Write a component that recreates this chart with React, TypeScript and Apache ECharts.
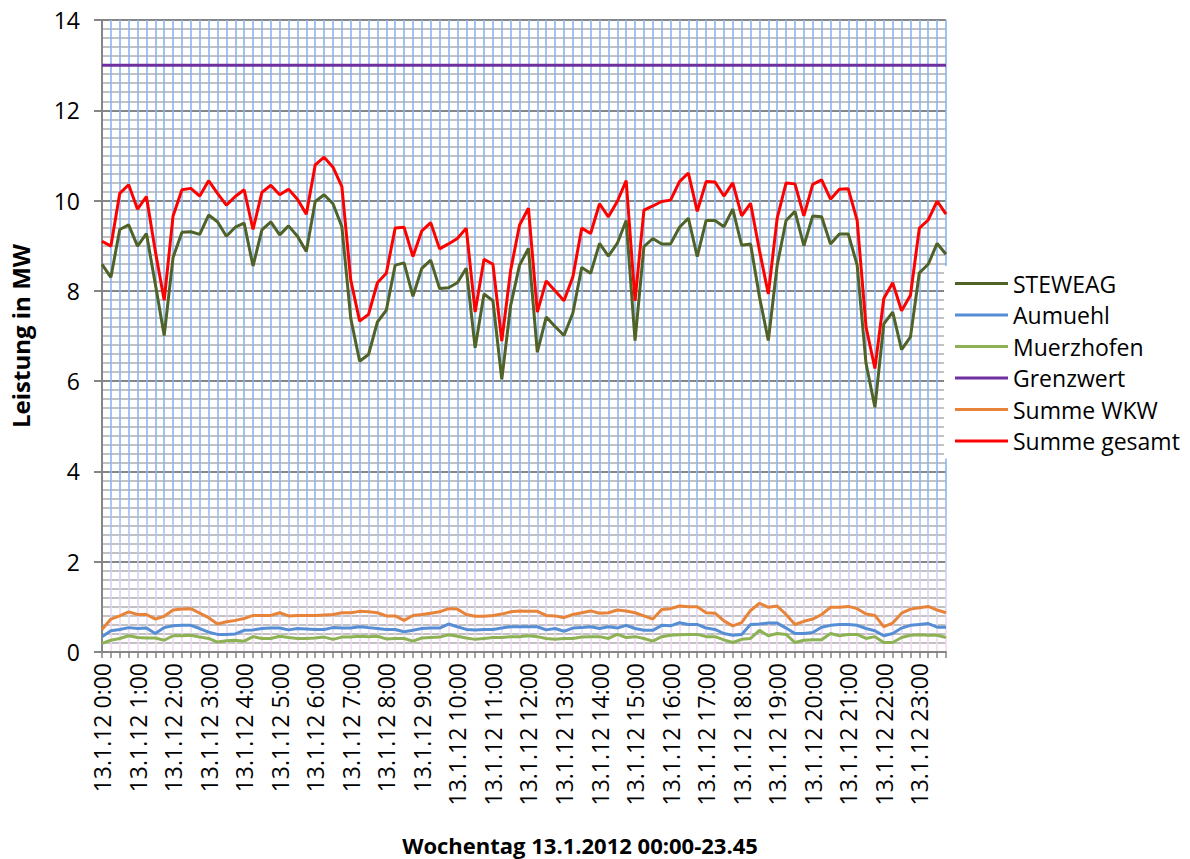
import React, { useEffect, useRef } from "react";
import * as echarts from "echarts";

const HOURS = Array.from({ length: 24 }, (_, h) => h);
const QUARTERS = ["00", "15", "30", "45"];
const categories: string[] = [];
HOURS.forEach((h) => QUARTERS.forEach((q) => categories.push(`13.1.12 ${h}:${q}`)));

const steweag = [
  8.59, 8.30, 9.36, 9.46, 8.99, 9.27, 8.15, 7.01,
  8.74, 9.30, 9.31, 9.25, 9.68, 9.53, 9.21, 9.41,
  9.50, 8.55, 9.35, 9.53, 9.24, 9.44, 9.21, 8.87,
  9.98, 10.13, 9.93, 9.42, 7.39, 6.44, 6.59, 7.31,
  7.57, 8.57, 8.62, 7.88, 8.50, 8.68, 8.05, 8.07,
  8.18, 8.50, 6.74, 7.93, 7.78, 6.04, 7.68, 8.57,
  8.94, 6.64, 7.42, 7.21, 7.01, 7.51, 8.52, 8.39,
  9.05, 8.77, 9.05, 9.56, 6.90, 8.98, 9.16, 9.04,
  9.04, 9.41, 9.61, 8.76, 9.56, 9.56, 9.42, 9.81,
  9.01, 9.04, 7.87, 6.90, 8.57, 9.56, 9.76, 9.00,
  9.66, 9.64, 9.04, 9.26, 9.26, 8.57, 6.39, 5.42,
  7.27, 7.53, 6.70, 6.98, 8.40, 8.59, 9.05, 8.81,
];

const aumuehl = [
  0.34, 0.47, 0.50, 0.54, 0.52, 0.53, 0.41, 0.54,
  0.58, 0.59, 0.59, 0.52, 0.44, 0.39, 0.39, 0.40,
  0.48, 0.49, 0.52, 0.53, 0.53, 0.49, 0.52, 0.51,
  0.50, 0.50, 0.54, 0.53, 0.53, 0.56, 0.54, 0.52,
  0.50, 0.50, 0.45, 0.48, 0.52, 0.53, 0.53, 0.62,
  0.56, 0.50, 0.49, 0.50, 0.50, 0.53, 0.56, 0.56,
  0.56, 0.56, 0.49, 0.52, 0.46, 0.53, 0.54, 0.56,
  0.52, 0.56, 0.53, 0.59, 0.52, 0.48, 0.48, 0.59,
  0.58, 0.65, 0.61, 0.61, 0.53, 0.50, 0.41, 0.37,
  0.39, 0.61, 0.62, 0.64, 0.64, 0.53, 0.41, 0.41,
  0.43, 0.55, 0.59, 0.61, 0.61, 0.59, 0.52, 0.47,
  0.36, 0.41, 0.53, 0.59, 0.61, 0.63, 0.55, 0.55,
];

const muerzhofen = [
  0.19, 0.26, 0.30, 0.36, 0.32, 0.31, 0.31, 0.26,
  0.36, 0.36, 0.37, 0.33, 0.30, 0.22, 0.25, 0.26,
  0.24, 0.34, 0.30, 0.30, 0.35, 0.32, 0.30, 0.30,
  0.31, 0.33, 0.28, 0.33, 0.33, 0.35, 0.34, 0.35,
  0.29, 0.30, 0.30, 0.24, 0.31, 0.32, 0.33, 0.38,
  0.35, 0.31, 0.28, 0.30, 0.32, 0.32, 0.34, 0.34,
  0.36, 0.34, 0.30, 0.28, 0.30, 0.30, 0.33, 0.34,
  0.34, 0.30, 0.39, 0.32, 0.34, 0.30, 0.24, 0.34,
  0.37, 0.38, 0.39, 0.39, 0.34, 0.34, 0.27, 0.21,
  0.28, 0.30, 0.48, 0.36, 0.41, 0.39, 0.21, 0.26,
  0.27, 0.27, 0.41, 0.36, 0.39, 0.39, 0.30, 0.34,
  0.21, 0.21, 0.32, 0.37, 0.38, 0.37, 0.37, 0.32,
];

const GRENZWERT = 13;

const summeWkw = [
  0.50, 0.73, 0.80, 0.89, 0.83, 0.83, 0.73, 0.79,
  0.93, 0.95, 0.96, 0.86, 0.76, 0.62, 0.67, 0.70,
  0.74, 0.81, 0.81, 0.81, 0.87, 0.80, 0.81, 0.81,
  0.81, 0.82, 0.83, 0.87, 0.87, 0.90, 0.89, 0.87,
  0.80, 0.80, 0.70, 0.81, 0.83, 0.86, 0.89, 0.96,
  0.95, 0.83, 0.79, 0.79, 0.81, 0.84, 0.89, 0.91,
  0.90, 0.90, 0.81, 0.80, 0.76, 0.83, 0.87, 0.91,
  0.86, 0.87, 0.93, 0.91, 0.87, 0.80, 0.73, 0.94,
  0.96, 1.02, 1.00, 1.00, 0.87, 0.86, 0.69, 0.58,
  0.65, 0.92, 1.08, 0.99, 1.02, 0.83, 0.61, 0.68,
  0.73, 0.83, 0.99, 0.99, 1.01, 0.96, 0.84, 0.81,
  0.56, 0.64, 0.86, 0.95, 0.98, 1.01, 0.93, 0.87,
];

const summeGesamt = [
  9.10, 8.99, 10.16, 10.35, 9.81, 10.09, 8.88, 7.79,
  9.66, 10.24, 10.27, 10.10, 10.44, 10.16, 9.90, 10.09,
  10.24, 9.36, 10.18, 10.34, 10.13, 10.25, 10.03, 9.70,
  10.79, 10.96, 10.74, 10.31, 8.24, 7.33, 7.48, 8.18,
  8.39, 9.39, 9.41, 8.76, 9.33, 9.51, 8.93, 9.04,
  9.16, 9.39, 7.53, 8.70, 8.59, 6.89, 8.46, 9.46,
  9.83, 7.53, 8.22, 8.00, 7.78, 8.31, 9.39, 9.27,
  9.93, 9.64, 9.98, 10.44, 7.78, 9.79, 9.88, 9.98,
  10.01, 10.42, 10.61, 9.76, 10.42, 10.41, 10.10, 10.39,
  9.66, 9.94, 8.90, 7.93, 9.61, 10.39, 10.37, 9.66,
  10.36, 10.46, 10.03, 10.25, 10.26, 9.56, 7.20, 6.28,
  7.83, 8.18, 7.56, 7.90, 9.39, 9.57, 9.99, 9.70,
];

const FONT = "'Open Sans', 'Noto Sans', sans-serif";

export default function App() {
  const ref = useRef<HTMLDivElement>(null);

  useEffect(() => {
    if (!ref.current) return;
    const chart = echarts.init(ref.current, null, { renderer: "svg" });

    const mk = (name: string, data: number[], color: string) => ({
      name,
      type: "line",
      data,
      symbol: "none",
      showSymbol: false,
      lineStyle: { color, width: 3 },
      itemStyle: { color },
    });

    chart.setOption({
      animation: false,
      backgroundColor: "#ffffff",
      grid: { left: 100, right: 244, top: 20, bottom: 207, containLabel: false },
      legend: {
        orient: "vertical",
        left: 944,
        top: 266,
        padding: [6, 8, 6, 11],
        backgroundColor: "#ffffff",
        icon: "rect",
        itemWidth: 53,
        itemHeight: 3,
        itemGap: 8.5,
        textStyle: { fontFamily: FONT, fontSize: 23, color: "#000" },
        data: ["STEWEAG", "Aumuehl", "Muerzhofen", "Grenzwert", "Summe WKW", "Summe gesamt"],
      },
      xAxis: {
        type: "category",
        boundaryGap: false,
        data: categories,
        axisLine: { show: true, lineStyle: { color: "#868686", width: 2 } },
        axisTick: { show: true, interval: 0, length: 6, lineStyle: { color: "#868686", width: 1.5 } },
        axisLabel: {
          interval: 3,
          rotate: 90,
          margin: 11,
          fontFamily: FONT,
          fontSize: 23,
          color: "#000",
        },
        splitLine: {
          show: true,
          interval: 0,
          lineStyle: {
            width: 1.6,
            color: {
              type: "linear",
              global: true,
              x: 0,
              y: 20,
              x2: 0,
              y2: 652,
              colorStops: [
                { offset: 0, color: "#88b4f0" },
                { offset: 0.74, color: "#88b4f0" },
                { offset: 0.88, color: "#d0d0f6" },
                { offset: 1, color: "#f6d9f0" },
              ],
            },
          },
        },
      },
      yAxis: {
        type: "value",
        min: 0,
        max: 14,
        interval: 2,
        name: "Leistung in MW",
        nameLocation: "middle",
        nameGap: 70,
        nameTextStyle: { fontFamily: FONT, fontSize: 24, fontWeight: "bold", color: "#000" },
        axisLine: { show: true, lineStyle: { color: "#868686", width: 2 } },
        axisTick: { show: true, length: 8, lineStyle: { color: "#868686", width: 2 } },
        axisLabel: { margin: 22, fontFamily: FONT, fontSize: 23, color: "#000" },
        splitLine: { show: true, lineStyle: { color: "#868686", width: 2 } },
        minorTick: { show: false, splitNumber: 10 },
        minorSplitLine: { show: true, lineStyle: { color: "#c2c2c2", width: 1.8 } },
      },
      graphic: [
        {
          type: "text",
          x: 580,
          y: 845,
          style: {
            text: "Wochentag 13.1.2012 00:00-23.45",
            fontFamily: FONT,
            fontSize: 22,
            fontWeight: "bold",
            fill: "#000",
            textAlign: "center",
            textVerticalAlign: "middle",
          },
        },
      ],
      series: [
        mk("STEWEAG", steweag, "#4f6228"),
        mk("Aumuehl", aumuehl, "#558ed5"),
        mk("Muerzhofen", muerzhofen, "#8db254"),
        mk("Grenzwert", categories.map(() => GRENZWERT), "#7030a0"),
        mk("Summe WKW", summeWkw, "#e8843a"),
        mk("Summe gesamt", summeGesamt, "#ff0000"),
      ],
    });

    return () => chart.dispose();
  }, []);

  return (
    <div
      ref={ref}
      style={{ position: "fixed", left: 0, top: 0, width: 1190, height: 859, background: "#fff" }}
    />
  );
}
